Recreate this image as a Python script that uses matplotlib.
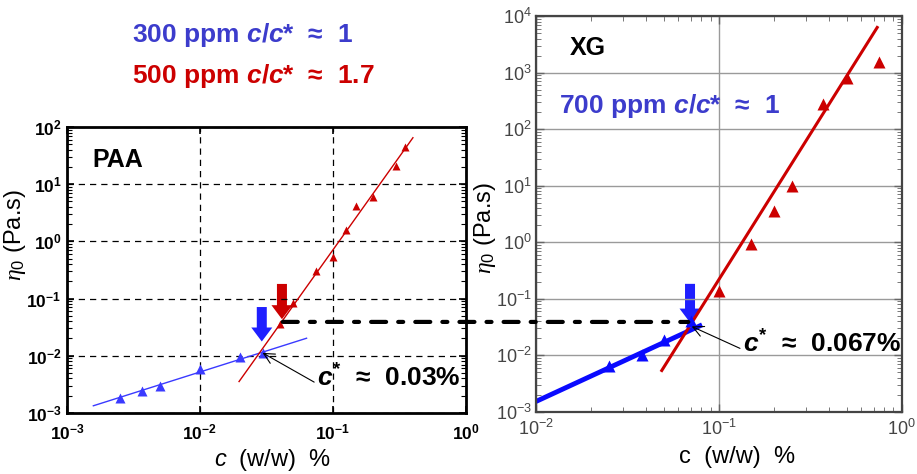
import numpy as np
import matplotlib
matplotlib.use("Agg")
import matplotlib.pyplot as plt
import matplotlib.ticker as ticker
from matplotlib.patches import FancyArrowPatch, ConnectionPatch

plt.rcParams['font.family'] = ['Liberation Sans', 'DejaVu Sans']
plt.rcParams['mathtext.fontset'] = 'custom'
plt.rcParams['mathtext.rm'] = 'Liberation Sans:bold'
plt.rcParams['mathtext.it'] = 'Liberation Sans:italic:bold'
plt.rcParams['mathtext.bf'] = 'Liberation Sans:bold'
plt.rcParams['mathtext.sf'] = 'Liberation Serif:italic'
plt.rcParams['mathtext.cal'] = 'Liberation Sans:italic'

BLUE = '#3a3aff'
RED = '#cc0000'
TXT_BLUE = '#3c3ccc'

# PAA data
paa_low_c = [0.0025, 0.0037, 0.005, 0.01, 0.02, 0.03]
paa_low_eta = [0.0018, 0.00245, 0.0029, 0.0058, 0.0094, 0.0113]
paa_high_c = [0.04, 0.05, 0.075, 0.1, 0.125, 0.15, 0.2, 0.3, 0.35]
paa_high_eta = [0.036, 0.085, 0.30, 0.54, 1.58, 4.2, 6.0, 21, 44]
paa_fit_low_c = [0.00158, 0.0634]
paa_fit_low_eta = [0.00133, 0.0202]
paa_fit_high_c = [0.0197, 0.40]
paa_fit_high_eta = [0.00353, 65]

# XG data
xg_low_c = [0.025, 0.038, 0.05, 0.07]
xg_low_eta = [0.0064, 0.0103, 0.0189, 0.0398]
xg_high_c = [0.1, 0.15, 0.2, 0.25, 0.37, 0.5, 0.75]
xg_high_eta = [0.135, 0.92, 3.6, 10, 280, 790, 1520]
xg_fit_low_c = [0.01, 0.0787]
xg_fit_low_eta = [0.00153, 0.0333]
xg_fit_high_c = [0.0487, 0.733]
xg_fit_high_eta = [0.0054, 6300]

c_star_eta = 0.039

fig = plt.figure(figsize=(9.17, 4.74), dpi=100)
ax1 = fig.add_axes([0.073, 0.129, 0.435, 0.603])
ax2 = fig.add_axes([0.5845, 0.131, 0.399, 0.835])


def pow10(v, pos):
    return r'$\mathregular{10^{%d}}$' % int(round(np.log10(v)))


eta_label = r'$\mathsf{\eta}_{\mathregular{0}}$ (Pa.s)'

# ---- left panel (PAA)
ax1.set_xscale('log')
ax1.set_yscale('log')
ax1.set_xlim(1e-3, 1)
ax1.set_ylim(1e-3, 1e2)
ax1.plot(paa_fit_low_c, paa_fit_low_eta, color=BLUE, lw=1.0)
ax1.plot(paa_fit_high_c, paa_fit_high_eta, color=RED, lw=1.0)
ax1.plot(paa_low_c, paa_low_eta, '^', color=BLUE, ms=7, mec='none')
ax1.plot(paa_high_c, paa_high_eta, '^', color=RED, ms=6, mec='none')
ax1.xaxis.set_major_locator(ticker.LogLocator(base=10, numticks=10))
ax1.yaxis.set_major_locator(ticker.LogLocator(base=10, numticks=10))
ax1.xaxis.set_minor_locator(ticker.NullLocator())
ax1.yaxis.set_minor_locator(ticker.LogLocator(base=10, subs=np.arange(2, 10), numticks=10))
ax1.yaxis.set_minor_formatter(ticker.NullFormatter())
ax1.xaxis.set_major_formatter(ticker.FuncFormatter(pow10))
ax1.yaxis.set_major_formatter(ticker.FuncFormatter(pow10))
for lab in ax1.get_xticklabels() + ax1.get_yticklabels():
    lab.set_fontweight('bold')
ax1.tick_params(direction='in', length=5, width=1.2, labelsize=12.5, top=True, right=True, pad=4)
ax1.tick_params(axis='x', pad=7)
ax1.tick_params(which='minor', direction='in', length=3.5, width=0.8, right=True)
ax1.grid(True, which='major', linestyle=(0, (5, 4)), color='black', lw=0.9)
for s in ax1.spines.values():
    s.set_linewidth(2.0)
ax1.set_ylabel(eta_label, fontsize=17)
ax1.yaxis.set_label_coords(-0.098, 0.622)
ax1.set_xlabel(r'$\mathcal{c}$  (w/w)  %', fontsize=17)
ax1.xaxis.set_label_coords(0.516, -0.12)
ax1.text(0.063, 0.86, 'PAA', transform=ax1.transAxes, fontsize=18, fontweight='bold')

arr_kw = dict(arrowstyle='simple,head_length=1.4,head_width=2.1,tail_width=1.0',
              mutation_scale=7.2, shrinkA=0, shrinkB=0, lw=0)
ax1.add_patch(FancyArrowPatch((0.0292, 0.071), (0.0292, 0.0177), color='#1f1fff', **arr_kw))
ax1.add_patch(FancyArrowPatch((0.0414, 0.18), (0.0414, 0.0435), color=RED, **arr_kw))
ax1.annotate(r'$c^{*}$  ≈  0.03%', xy=(0.0296, 0.0112), xytext=(0.0759, 0.00285),
             fontsize=19, fontweight='bold', ha='left', va='baseline',
             arrowprops=dict(arrowstyle='->', color='black', lw=0.8, shrinkA=0, shrinkB=0,
                             relpos=(0, 0.3)))

# ---- right panel (XG)
ax2.set_xscale('log')
ax2.set_yscale('log')
ax2.set_xlim(1e-2, 1)
ax2.set_ylim(1e-3, 1e4)
ax2.grid(True, which='major', color='#9a9a9a', lw=1.0)
ax2.plot(xg_fit_low_c, xg_fit_low_eta, color='#0a0aff', lw=3.5)
ax2.plot(xg_fit_high_c, xg_fit_high_eta, color=RED, lw=2.2)
ax2.plot(xg_low_c, xg_low_eta, '^', color='#0a0aff', ms=8, mec='none')
ax2.plot(xg_high_c, xg_high_eta, '^', color=RED, ms=8, mec='none')
ax2.xaxis.set_major_locator(ticker.LogLocator(base=10, numticks=10))
ax2.yaxis.set_major_locator(ticker.LogLocator(base=10, numticks=12))
ax2.xaxis.set_minor_locator(ticker.LogLocator(base=10, subs=np.arange(2, 10), numticks=10))
ax2.yaxis.set_minor_locator(ticker.LogLocator(base=10, subs=np.arange(2, 10), numticks=12))
ax2.xaxis.set_minor_formatter(ticker.NullFormatter())
ax2.yaxis.set_minor_formatter(ticker.NullFormatter())
ax2.xaxis.set_major_formatter(ticker.FuncFormatter(pow10))
ax2.yaxis.set_major_formatter(ticker.FuncFormatter(pow10))
ax2.tick_params(direction='in', length=6, width=1.0, labelsize=13, labelcolor='#444444',
                top=True, right=True, color='#666666', pad=3)
ax2.tick_params(axis='x', pad=5)
ax2.tick_params(which='minor', direction='in', length=3.5, width=0.7, top=True, right=True,
                color='#777777')
for s in ax2.spines.values():
    s.set_linewidth(1.6)
    s.set_color('#444444')
ax2.set_ylabel(eta_label, fontsize=17)
ax2.yaxis.set_label_coords(-0.104, 0.465)
ax2.set_xlabel('c  (w/w)  %', fontsize=17)
ax2.xaxis.set_label_coords(0.549, -0.085)
ax2.text(0.093, 0.902, 'XG', transform=ax2.transAxes, fontsize=18, fontweight='bold')
ax2.text(0.063, 0.755, r'700 ppm $c/c$*  ≈  1', transform=ax2.transAxes, fontsize=19,
         fontweight='bold', color=TXT_BLUE)
ax2.add_patch(FancyArrowPatch((0.0695, 0.184), (0.0695, 0.038), color='#1f1fff', **arr_kw))
ax2.annotate(r'$c^{*}$  ≈  0.067%', xy=(0.071, 0.0325), xytext=(0.135, 0.0111),
             fontsize=19, fontweight='bold', ha='left', va='baseline',
             arrowprops=dict(arrowstyle='->', color='black', lw=0.8, shrinkA=0, shrinkB=0,
                             relpos=(0, 0.3)))

for ax in (ax1, ax2):
    ax.xaxis.offsetText.set_visible(False)
    ax.yaxis.offsetText.set_visible(False)

# dash-dot connector at c* level
con = ConnectionPatch(xyA=(0.042, c_star_eta), coordsA=ax1.transData,
                      xyB=(0.068, c_star_eta), coordsB=ax2.transData,
                      linestyle=(0, (3.6, 2.9, 1.2, 2.9)), lw=3.0, color='black')
fig.add_artist(con)

# concentration labels
fig.text(0.144, 0.912, r'300 ppm $c/c$*  ≈  1', fontsize=19, fontweight='bold', color=TXT_BLUE)
fig.text(0.144, 0.825, r'500 ppm $c/c$*  ≈  1.7', fontsize=19, fontweight='bold', color=RED)

fig.savefig('out.png', dpi=100)
